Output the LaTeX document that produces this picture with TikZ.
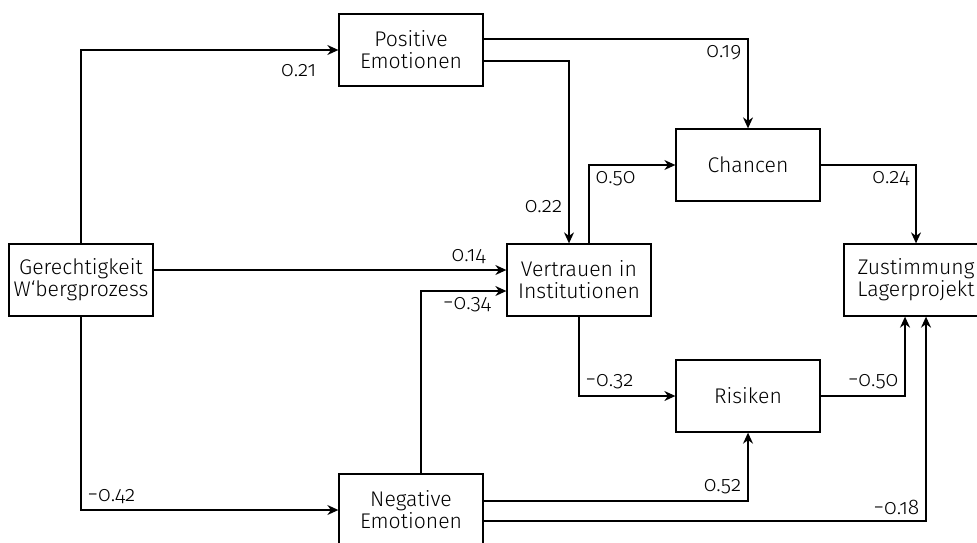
\documentclass[tikz,border=0pt]{standalone}
\usepackage{fontspec}
\setmainfont{Fira Sans Light}[Numbers=OldStyle]
\usetikzlibrary{positioning,arrows.meta}

\begin{document}
\begin{tikzpicture}[
    >={Stealth[length=5.5pt,width=5pt]},
    line width=0.65pt,
    on grid,
    every node/.style={font=\fontsize{10.6}{11}\selectfont},
    box/.style={draw, minimum width=72pt, minimum height=36pt, align=center, inner sep=2pt},
    coef/.style={inner sep=3pt}
]
\useasboundingbox (-40.5pt,-131pt) rectangle (448pt,140pt);

\node[box] (ger) {Gerechtigkeit\\W‘bergprozess};
\node[box, above right=115pt and 165pt of ger] (pos) {Positive\\Emotionen};
\node[box, below right=115pt and 165pt of ger] (neg) {Negative\\Emotionen};
\node[box, right=249pt of ger] (ver) {Vertrauen in\\Institutionen};
\node[box, above right=57.5pt and 84.5pt of ver] (cha) {Chancen};
\node[box, below right=58pt and 84.5pt of ver] (ris) {Risiken};
\node[box, right=168.5pt of ver] (zus) {Zustimmung\\Lagerprojekt};

% paths out of Gerechtigkeit
\draw[->] (ger.north) |- node[coef, pos=0.97, below left, yshift=-4pt] {0.21} (pos.west);
\draw[->] ([yshift=5pt]ger.east) -- node[coef, pos=0.96, above left] {0.14} ([yshift=5pt]ver.west);
\draw[->] (ger.south) |- node[coef, pos=0.5, above right] {−0.42} (neg.west);

% emotions
\draw[->] ([yshift=5.5pt]pos.east) -| node[coef, pos=0.5, below left] {0.19} (cha.north);
\draw[->] ([yshift=-5.5pt]pos.east) -| node[coef, pos=0.9, left] {0.22} ([xshift=-5pt]ver.north);
\draw[->] ([xshift=5pt]neg.north) |- node[coef, pos=0.77, below] {−0.34} ([yshift=-5.5pt]ver.west);
\draw[->] ([yshift=4.5pt]neg.east) -| node[coef, pos=0.5, above left] {0.52} (ris.south);
\draw[->] ([yshift=-5.5pt]neg.east) -| node[coef, pos=0.5, above left] {−0.18} ([xshift=5pt]zus.south);

% trust
\draw[->] ([xshift=5pt]ver.north) |- node[coef, pos=0.5, below right] {0.50} (cha.west);
\draw[->] (ver.south) |- node[coef, pos=0.5, above right] {−0.32} (ris.west);

% to Zustimmung
\draw[->] (cha.east) -| node[coef, pos=0.5, below left] {0.24} (zus.north);
\draw[->] (ris.east) -| node[coef, pos=0.5, above left] {−0.50} ([xshift=-5.5pt]zus.south);

\end{tikzpicture}
\end{document}
